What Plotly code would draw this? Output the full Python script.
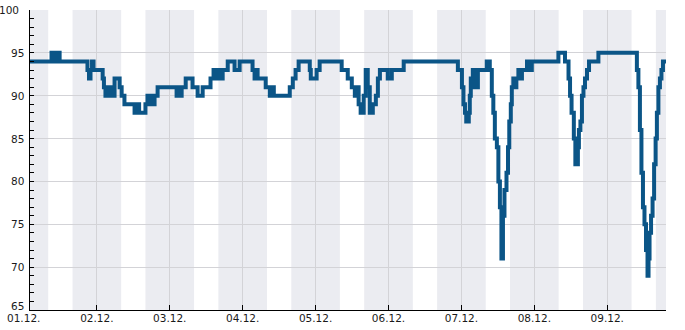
import plotly.graph_objects as go
from datetime import datetime, timedelta

# ---- data (step series, value holds until next timestamp) ----
times = [
    "2023-12-01 02:00", "2023-12-01 09:05", "2023-12-01 09:45", "2023-12-01 10:45", "2023-12-01 11:45",
    "2023-12-01 20:55", "2023-12-01 21:25", "2023-12-01 21:55", "2023-12-01 22:25", "2023-12-01 22:55",
    "2023-12-02 01:55", "2023-12-02 02:20", "2023-12-02 02:50", "2023-12-02 03:30", "2023-12-02 04:00",
    "2023-12-02 04:50", "2023-12-02 05:10", "2023-12-02 05:50", "2023-12-02 07:30", "2023-12-02 08:10",
    "2023-12-02 09:05", "2023-12-02 12:25", "2023-12-02 13:25", "2023-12-02 13:55", "2023-12-02 16:00",
    "2023-12-02 16:40", "2023-12-02 17:10", "2023-12-02 17:40", "2023-12-02 18:20", "2023-12-02 19:00",
    "2023-12-02 20:00", "2023-12-03 02:15", "2023-12-03 02:45", "2023-12-03 03:15", "2023-12-03 03:55",
    "2023-12-03 05:15", "2023-12-03 07:30", "2023-12-03 09:10", "2023-12-03 10:50", "2023-12-03 13:25",
    "2023-12-03 14:25", "2023-12-03 15:05", "2023-12-03 15:45", "2023-12-03 16:25", "2023-12-03 17:25",
    "2023-12-03 19:05", "2023-12-03 21:20", "2023-12-03 23:00", "2023-12-04 03:15", "2023-12-04 03:55",
    "2023-12-04 04:25", "2023-12-04 04:55", "2023-12-04 07:35", "2023-12-04 08:55", "2023-12-04 09:35",
    "2023-12-04 10:15", "2023-12-04 15:30", "2023-12-04 16:30", "2023-12-04 17:25", "2023-12-04 18:25",
    "2023-12-04 22:05", "2023-12-04 22:25", "2023-12-05 00:20", "2023-12-05 01:20", "2023-12-05 08:35",
    "2023-12-05 10:35", "2023-12-05 11:55", "2023-12-05 12:55", "2023-12-05 13:35", "2023-12-05 14:10",
    "2023-12-05 14:50", "2023-12-05 15:50", "2023-12-05 16:30", "2023-12-05 17:10", "2023-12-05 17:50",
    "2023-12-05 18:50", "2023-12-05 19:50", "2023-12-05 20:30", "2023-12-05 21:10", "2023-12-05 23:45",
    "2023-12-06 01:05", "2023-12-06 05:00", "2023-12-06 22:50", "2023-12-07 00:10", "2023-12-07 00:40",
    "2023-12-07 01:10", "2023-12-07 01:35", "2023-12-07 02:25", "2023-12-07 02:45", "2023-12-07 03:05",
    "2023-12-07 03:45", "2023-12-07 04:15", "2023-12-07 05:25", "2023-12-07 08:20", "2023-12-07 09:20",
    "2023-12-07 10:00", "2023-12-07 10:30", "2023-12-07 11:00", "2023-12-07 11:40", "2023-12-07 12:10",
    "2023-12-07 12:40", "2023-12-07 13:10", "2023-12-07 13:40", "2023-12-07 14:10", "2023-12-07 14:50",
    "2023-12-07 15:20", "2023-12-07 15:45", "2023-12-07 16:15", "2023-12-07 16:35", "2023-12-07 17:05",
    "2023-12-07 17:35", "2023-12-07 18:05", "2023-12-07 18:45", "2023-12-07 19:15", "2023-12-07 19:55",
    "2023-12-07 21:35", "2023-12-07 22:15", "2023-12-07 23:10", "2023-12-08 07:55", "2023-12-08 10:05",
    "2023-12-08 11:15", "2023-12-08 11:45", "2023-12-08 12:15", "2023-12-08 13:00", "2023-12-08 13:30",
    "2023-12-08 14:20", "2023-12-08 14:40", "2023-12-08 15:10", "2023-12-08 15:40", "2023-12-08 16:10",
    "2023-12-08 16:40", "2023-12-08 17:20", "2023-12-08 18:00", "2023-12-08 21:05", "2023-12-09 09:45",
    "2023-12-09 10:15", "2023-12-09 10:45", "2023-12-09 11:15", "2023-12-09 11:45", "2023-12-09 12:15",
    "2023-12-09 12:45", "2023-12-09 13:15", "2023-12-09 13:35", "2023-12-09 13:55", "2023-12-09 14:25",
    "2023-12-09 14:55", "2023-12-09 15:25", "2023-12-09 15:55", "2023-12-09 16:20", "2023-12-09 16:50",
    "2023-12-09 17:20", "2023-12-09 17:50", "2023-12-09 18:20", "2023-12-09 19:20",
]
values = [
    94, 95, 94, 95, 94,
    93, 92, 93, 94, 93,
    92, 91, 90, 91, 90,
    91, 90, 92, 91, 90,
    89, 88, 89, 88, 89,
    90, 89, 90, 89, 90,
    91, 90, 91, 90, 91,
    92, 91, 90, 91, 92,
    93, 92, 93, 92, 93,
    94, 93, 94, 93, 92,
    93, 92, 91, 90, 91,
    90, 91, 92, 93, 94,
    93, 92, 93, 94, 93,
    92, 91, 90, 91, 89,
    88, 90, 93, 91, 88,
    89, 90, 92, 93, 92,
    93, 94, 93, 91, 89,
    88, 87, 88, 90, 92,
    93, 91, 93, 94, 93,
    90, 88, 85, 84, 80,
    77, 71, 76, 79, 81,
    84, 87, 89, 91, 92,
    91, 92, 93, 92, 93,
    94, 93, 94, 95, 94,
    92, 90, 88, 85, 82,
    84, 86, 87, 90, 91,
    92, 93, 94, 95, 93,
    91, 86, 81, 77, 75,
    72, 69, 71, 74, 76,
    78, 82, 85, 88, 91,
    92, 93, 94, 94,
]

x_start = "2023-12-01 02:00"
x_end = "2023-12-09 19:20"
tick_days = ["2023-12-01", "2023-12-02", "2023-12-03", "2023-12-04", "2023-12-05",
             "2023-12-06", "2023-12-07", "2023-12-08", "2023-12-09"]
tick_labels = ["01.12.", "02.12.", "03.12.", "04.12.", "05.12.",
               "06.12.", "07.12.", "08.12.", "09.12."]
y_ticks = [65, 70, 75, 80, 85, 90, 95, 100]
night_start_hour = 16
night_end_hour = 8

LINE = "#0b5587"
BAND = "#ebecf1"
GRID = "#d3d3d7"
TXT = "#1a1a1a"
FONT = "DejaVu Sans"
FS = 10.5

fig = go.Figure()
fig.add_trace(go.Scatter(
    x=times, y=values, mode="lines", line=dict(color=LINE, width=4, shape="hv"),
    hoverinfo="skip", showlegend=False,
))

# night bands
d0 = datetime(2023, 11, 30)
for i in range(11):
    s = d0 + timedelta(days=i, hours=night_start_hour)
    e = d0 + timedelta(days=i + 1, hours=night_end_hour)
    fig.add_shape(type="rect", xref="x", yref="paper", x0=s, x1=e, y0=0, y1=1,
                  fillcolor=BAND, line_width=0, layer="below")

fig.update_layout(
    width=685, height=330,
    margin=dict(l=30, r=19, t=10, b=20, autoexpand=False),
    paper_bgcolor="white", plot_bgcolor="white",
    font=dict(family=FONT, size=FS, color=TXT),
)
fig.update_xaxes(
    type="date", range=[x_start, x_end], automargin=False,
    tickmode="array", tickvals=tick_days[1:], ticktext=tick_labels[1:],
    ticks="inside", ticklen=5, tickcolor="black", tickwidth=1,
    ticklabelstandoff=-2,
    showline=True, linecolor="black", linewidth=1,
    showgrid=True, gridcolor=GRID, gridwidth=1, zeroline=False,
    tickfont=dict(family=FONT, size=FS, color=TXT),
)
fig.update_yaxes(
    range=[65, 100], tickmode="array", tickvals=y_ticks, showticklabels=False,
    automargin=False,
    ticks="inside", ticklen=4, tickcolor="black", tickwidth=1,
    minor=dict(dtick=1, tick0=65, ticks="inside", ticklen=4, tickcolor="black", showgrid=False),
    showline=True, linecolor="black", linewidth=1,
    showgrid=True, gridcolor=GRID, gridwidth=1, zeroline=False,
)

# y tick labels (bottom one nudged up, top one nudged left, as in the source)
for v in y_ticks:
    xs = -5
    ys = 0
    if v == 65:
        ys = 4
    if v == 100:
        xs = -10
    fig.add_annotation(x=0, y=v, xref="paper", yref="y", text=str(v), showarrow=False,
                       xanchor="right", yanchor="middle", xshift=xs, yshift=ys,
                       borderpad=0, font=dict(family=FONT, size=FS, color=TXT))

# first day label sits left of the plotted range
t0 = datetime.fromisoformat(x_start)
t1 = datetime.fromisoformat(x_end)
tl = datetime.fromisoformat(tick_days[0])
frac = (tl - t0) / (t1 - t0)
fig.add_annotation(x=frac, y=0, xref="paper", yref="paper", text=tick_labels[0],
                   showarrow=False, xanchor="center", yanchor="top", yshift=-1,
                   borderpad=0, font=dict(family=FONT, size=FS, color=TXT))

fig.write_html("out.html")
